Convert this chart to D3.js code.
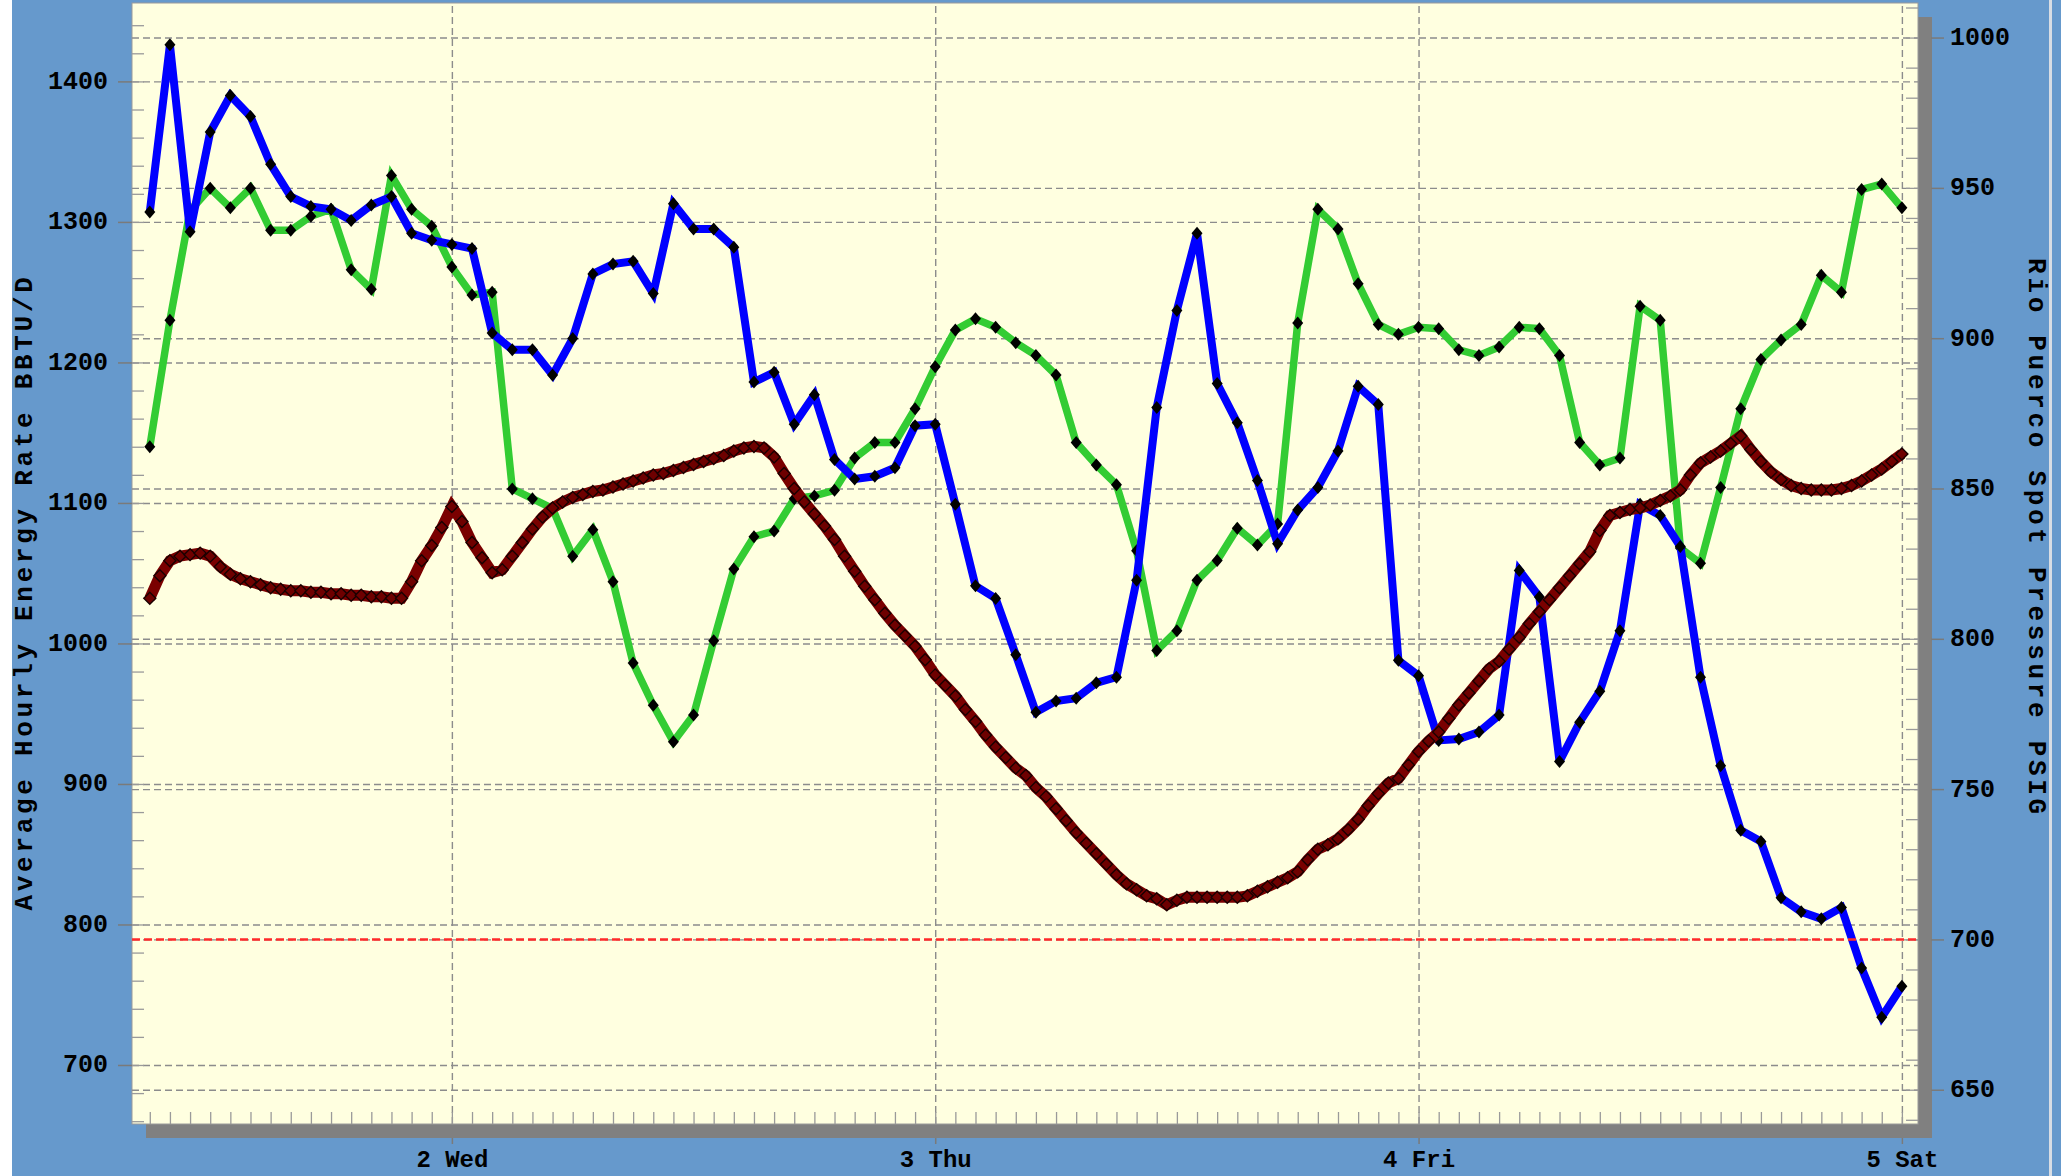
<!DOCTYPE html>
<html><head><meta charset="utf-8">
<script src="https://cdn.jsdelivr.net/npm/d3@7"></script>
<style>
html,body{margin:0;padding:0;background:#6699cc;overflow:hidden;}
svg{display:block;}
</style></head>
<body>
<svg id="chart" width="2061" height="1176"></svg>
<script>
// ---------------- DATA ----------------
const seriesStart = new Date(2011, 1, 1, 9, 0, 0);   // hourly series start (1 Tue 09:00)
const xDomain = [new Date(2011, 1, 1, 8, 7), new Date(2011, 1, 5, 0, 48)];

// Average Hourly Energy Rate BBTU/D (left axis), hourly from 09:00
const blueEnergy = [
  1307, 1426, 1293, 1364, 1390, 1375, 1341, 1318, 1311, 1309, 1301, 1312, 1318, 1292, 1287,
  1284, 1281, 1221, 1209, 1209, 1191, 1217, 1263, 1270, 1272, 1249, 1313, 1295, 1295, 1282,
  1186, 1193, 1156, 1177, 1131, 1117, 1119, 1125, 1155, 1156, 1099, 1041, 1032, 992, 951,
  959, 961, 972, 976, 1045, 1168, 1237, 1292, 1185, 1157, 1116, 1071, 1095, 1111, 1137,
  1183, 1170, 988, 977, 931, 932, 937, 949, 1052, 1033, 916, 944, 966, 1009, 1099,
  1091, 1069, 976, 913, 867, 859, 819, 809, 804, 812, 769, 734, 756
];
const greenEnergy = [
  1140, 1230, 1308, 1324, 1310, 1324, 1294, 1294, 1304, 1309, 1266, 1252, 1333, 1309, 1297,
  1268, 1248, 1250, 1110, 1103, 1096, 1062, 1081, 1044, 986, 956, 930, 949, 1002, 1053,
  1076, 1080, 1103, 1105, 1109, 1132, 1143, 1143, 1167, 1197, 1223, 1231, 1225, 1214, 1205,
  1191, 1143, 1127, 1113, 1066, 995, 1009, 1045, 1059, 1082, 1070, 1085, 1228, 1309, 1295,
  1256, 1227, 1220, 1225, 1224, 1209, 1205, 1211, 1225, 1224, 1205, 1143, 1127, 1132, 1240,
  1230, 1068, 1057, 1111, 1167, 1202, 1216, 1227, 1262, 1250, 1323, 1327, 1310
];
// Rio Puerco Spot Pressure PSIG (right axis), every 30 minutes from 09:00
const pressure = [
  813.5, 821, 826, 827.5, 828, 828.5, 827.5, 824, 821.5, 820,            // 9:00 - 13:30
  819, 818, 817, 816.5, 816, 816, 815.5, 815.5, 815, 815,                // 14:00 - 18:30
  814.5, 814.5, 814, 814, 813.5, 813.5, 819, 826, 831, 837,              // 19:00 - 23:30
  844, 839, 832, 827, 822, 823, 827.5, 832, 836.5, 840.5,                // 24:00 - 28:30
  843.5, 845.5, 847, 848, 849, 849.5, 850.5, 851.5, 852.5, 853.5,        // 29:00 - 33:30
  854.5, 855, 856, 857, 858, 859, 860, 861, 862.5, 863.5,                // 34:00 - 38:30
  864, 863.5, 860.5, 855, 850, 845.5, 841.5, 837.5, 833, 827.5,          // 39:00 - 43:30
  822.5, 817.5, 813, 808.5, 804.5, 801, 797.5, 793, 788, 784.5,          // 44:00 - 48:30
  781, 776.5, 772.5, 768, 764, 760.5, 757, 754.5, 750.5, 747.5,          // 49:00 - 53:30
  743.5, 739.5, 735.5, 732, 728.5, 725, 721.5, 718.5, 716.5, 714.5,      // 54:00 - 58:30
  713.5, 711.5, 713, 714, 714, 714, 714, 714, 714, 714.5,                // 59:00 - 63:30
  716, 717.5, 719, 720.5, 722.5, 726.5, 730, 731.5, 733.5, 736.5,        // 64:00 - 68:30
  740, 744.5, 748.5, 752, 753.5, 758, 762.5, 766, 769, 773.5,            // 69:00 - 73:30
  778, 782, 786, 790, 792.5, 796.5, 800.5, 805, 809, 813,                // 74:00 - 78:30
  817, 821, 825, 829, 836, 841, 842, 843, 843.5, 844.5,                  // 79:00 - 83:30
  846, 847.5, 849.5, 854.5, 858.5, 860.5, 862.5, 865, 867.5, 863,        // 84:00 - 88:30
  859, 855.5, 853, 851, 850, 849.5, 849.5, 849.5, 850, 851,              // 89:00 - 93:30
  852.5, 854.5, 856.5, 859, 861.5                                        // 94:00 - 96:00
];
const pressureLimit = 700;
const leftTicks = [700, 800, 900, 1000, 1100, 1200, 1300, 1400];
const rightTicks = [650, 700, 750, 800, 850, 900, 950, 1000];
const leftTitle = "Average Hourly Energy Rate BBTU/D";
const rightTitle = "Rio Puerco Spot Pressure PSIG";

// ---------------- LAYOUT ----------------
const W = 2061, H = 1176;
const P = {l: 132, r: 1918, t: 3, b: 1124};
const SH = 14;
const FONT = "'Liberation Mono','Courier New',monospace";

const svg = d3.select("#chart");
const x = d3.scaleTime().domain(xDomain).range([P.l, P.r]);
const yL = d3.scaleLinear().domain([658.0, 1455.8]).range([P.b, P.t]);
const yR = d3.scaleLinear().domain([638.6, 1011.5]).range([P.b, P.t]);

const hourly = (arr) => arr.map((v, i) => ({t: d3.timeHour.offset(seriesStart, i), v}));
const halfHourly = (arr) => arr.map((v, i) => ({t: d3.timeMinute.offset(seriesStart, i * 30), v}));
const blueData = hourly(blueEnergy), greenData = hourly(greenEnergy), presData = halfHourly(pressure);

// background
svg.append("rect").attr("width", W).attr("height", H).attr("fill", "#6699cc");
svg.append("rect").attr("x", 0).attr("y", 0).attr("width", 12).attr("height", H).attr("fill", "#ffffff");
svg.append("rect").attr("x", 2049).attr("y", 0).attr("width", 3).attr("height", H).attr("fill", "#d8dde4");

// shadow + plot
svg.append("rect").attr("x", P.l + SH).attr("y", P.t + SH).attr("width", P.r - P.l).attr("height", P.b - P.t).attr("fill", "#808080");
svg.append("rect").attr("x", P.l).attr("y", P.t).attr("width", P.r - P.l).attr("height", P.b - P.t)
  .attr("fill", "#ffffe0").attr("stroke", "#9a9a9a").attr("stroke-width", 1);

svg.append("clipPath").attr("id", "clip").append("rect")
  .attr("x", P.l).attr("y", P.t).attr("width", P.r - P.l).attr("height", P.b - P.t);

const styleAxis = (g, color) => {
  g.select(".domain").remove();
  g.selectAll(".tick line").attr("stroke", color);
};

// grid lines (dashed)
const grid = svg.append("g").attr("clip-path", "url(#clip)");
const gL = grid.append("g").attr("transform", `translate(${P.l},0)`)
  .call(d3.axisLeft(yL).tickValues(leftTicks).tickSize(-(P.r - P.l)).tickFormat(""));
const gR = grid.append("g").attr("transform", `translate(${P.l},0)`)
  .call(d3.axisLeft(yR).tickValues(rightTicks).tickSize(-(P.r - P.l)).tickFormat(""));
const gX = grid.append("g").attr("transform", `translate(0,${P.b})`)
  .call(d3.axisBottom(x).ticks(d3.timeDay.every(1)).tickSize(-(P.b - P.t)).tickFormat(""));
[gL, gR, gX].forEach(g => {
  styleAxis(g, "#8c8c8c");
  g.selectAll(".tick line").attr("stroke-dasharray", "7,4").attr("stroke-width", 1.4);
});

// inner minor ticks
const minorL = d3.range(660, 1450, 20);
const minorR = d3.range(640, 1011, 10);
const iL = svg.append("g").attr("transform", `translate(${P.l},0)`)
  .call(d3.axisRight(yL).tickValues(minorL).tickSize(12).tickFormat(""));
const iR = svg.append("g").attr("transform", `translate(${P.r},0)`)
  .call(d3.axisLeft(yR).tickValues(minorR).tickSize(12).tickFormat(""));
const iB = svg.append("g").attr("transform", `translate(0,${P.b})`)
  .call(d3.axisTop(x).ticks(d3.timeHour.every(1)).tickSize(12).tickFormat(""));
[iL, iR, iB].forEach(g => { styleAxis(g, "#9a9a9a"); g.selectAll(".tick line").attr("stroke-width", 1.3); });

// outer axes with labels
const aL = svg.append("g").attr("transform", `translate(${P.l},0)`)
  .call(d3.axisLeft(yL).tickValues(leftTicks).tickSize(14).tickPadding(10).tickFormat(d3.format("d")));
const aR = svg.append("g").attr("transform", `translate(${P.r + SH - 1},0)`)
  .call(d3.axisRight(yR).tickValues(rightTicks).tickSize(13).tickPadding(6).tickFormat(d3.format("d")));
const aB = svg.append("g").attr("transform", `translate(0,${P.b + SH})`)
  .call(d3.axisBottom(x).ticks(d3.timeDay.every(1)).tickSize(6).tickPadding(6).tickFormat(d3.timeFormat("%-d %a")));
[aL, aR, aB].forEach(g => {
  styleAxis(g, "#7a7a7a");
  g.selectAll(".tick line").attr("stroke-width", 1.5);
  g.selectAll("text").attr("fill", "#000").style("font-family", FONT).style("font-size", "25px")
    .style("font-weight", "bold");
});
aB.selectAll("text").style("font-size", "24px");
aL.selectAll("text").attr("dy", "0.28em");
aR.selectAll("text").attr("dy", "0.28em");

// axis titles
svg.append("text").attr("transform", `translate(32,592) rotate(-90)`).attr("text-anchor", "middle")
  .style("font-family", FONT).style("font-size", "26px").style("font-weight", "bold")
  .style("letter-spacing", "3.7px").attr("fill", "#000").text(leftTitle);
svg.append("text").attr("transform", `translate(2029,538) rotate(90)`).attr("text-anchor", "middle")
  .style("font-family", FONT).style("font-size", "26px").style("font-weight", "bold")
  .style("letter-spacing", "3.7px").attr("fill", "#000").text(rightTitle);

// lines
const plotG = svg.append("g").attr("clip-path", "url(#clip)");
const lineL = d3.line().x(d => x(d.t)).y(d => yL(d.v));
const lineR = d3.line().x(d => x(d.t)).y(d => yR(d.v));
const diamond = "M0,-6.5L5.5,0L0,6.5L-5.5,0Z";

function drawSeries(data, line, color, width) {
  plotG.append("path").datum(data).attr("d", line).attr("fill", "none")
    .attr("stroke", color).attr("stroke-width", width).attr("stroke-linejoin", "miter").attr("stroke-miterlimit", 3);
}
drawSeries(greenData, lineL, "#33cc33", 7.5);
plotG.append("g").selectAll("path").data(greenData).join("path").attr("d", diamond)
  .attr("transform", d => `translate(${x(d.t)},${yL(d.v)})`).attr("fill", "#000");
drawSeries(blueData, lineL, "#0000ff", 8);
plotG.append("g").selectAll("path").data(blueData).join("path").attr("d", diamond)
  .attr("transform", d => `translate(${x(d.t)},${yL(d.v)})`).attr("fill", "#000");
drawSeries(presData, lineR, "#7a0000", 11);
plotG.append("g").selectAll("path").data(presData).join("path").attr("d", "M0,-6L6,0L0,6L-6,0Z")
  .attr("transform", d => `translate(${x(d.t)},${yR(d.v)})`).attr("fill", "#6e0000")
  .attr("stroke", "#1a0000").attr("stroke-width", 1.4);

// pressure limit
plotG.append("line").attr("x1", P.l).attr("x2", P.r).attr("y1", yR(pressureLimit)).attr("y2", yR(pressureLimit))
  .attr("stroke", "#ff2a2a").attr("stroke-width", 2.5).attr("stroke-dasharray", "8,4");
</script>
</body></html>
